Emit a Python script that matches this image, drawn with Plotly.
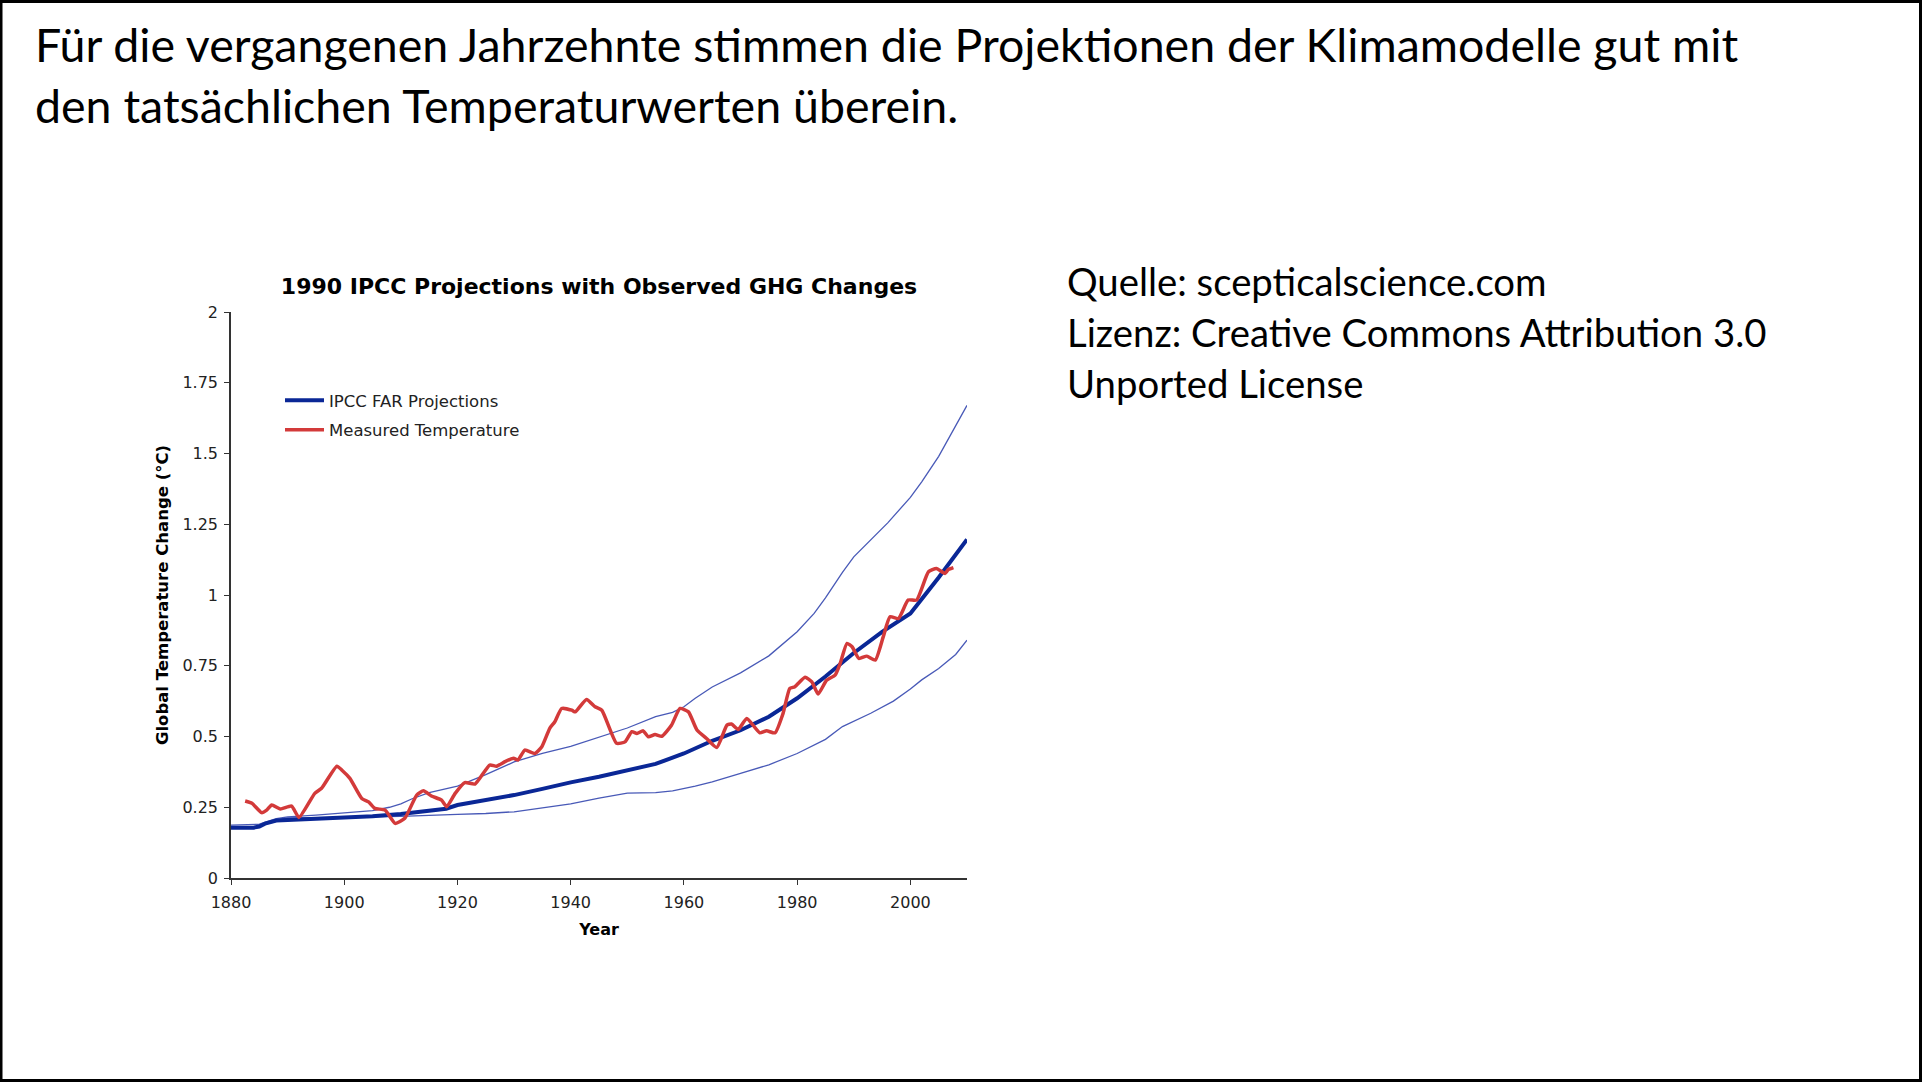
import plotly.graph_objects as go

# ---------------- data ----------------
proj_years = [1880, 1884, 1885, 1886, 1888, 1890, 1895, 1900, 1905, 1910, 1915, 1918, 1920,
              1925, 1930, 1935, 1938, 1940, 1945, 1950, 1955, 1958, 1960, 1965, 1970, 1975,
              1980, 1985, 1990, 1995, 2000, 2005, 2010]
proj_values = [0.178, 0.178, 0.182, 0.192, 0.203, 0.205, 0.207, 0.212, 0.218, 0.226, 0.236, 0.245, 0.258,
               0.275, 0.293, 0.315, 0.330, 0.338, 0.358, 0.380, 0.403, 0.425, 0.440, 0.485, 0.522, 0.570,
               0.635, 0.712, 0.795, 0.870, 0.935, 1.062, 1.196]

upper_years = [1880, 1885, 1888, 1890, 1895, 1900, 1905, 1908, 1910, 1912, 1915, 1920, 1925, 1930,
               1935, 1940, 1946, 1950, 1955, 1958, 1960, 1962, 1965, 1970, 1975, 1980, 1983, 1985,
               1988, 1990, 1996, 2000, 2002, 2005, 2010]
upper_values = [0.187, 0.190, 0.210, 0.216, 0.222, 0.229, 0.238, 0.250, 0.262, 0.280, 0.302, 0.325, 0.365, 0.410,
                0.440, 0.465, 0.505, 0.530, 0.570, 0.585, 0.605, 0.635, 0.675, 0.725, 0.785, 0.870, 0.935, 0.990,
                1.080, 1.135, 1.255, 1.345, 1.400, 1.490, 1.670]

lower_years = [1880, 1885, 1888, 1890, 1900, 1905, 1910, 1920, 1925, 1930, 1935, 1940, 1945, 1950,
               1955, 1958, 1962, 1965, 1970, 1975, 1980, 1985, 1988, 1993, 1997, 2000, 2002, 2005,
               2008, 2010]
lower_values = [0.178, 0.182, 0.205, 0.212, 0.214, 0.215, 0.218, 0.225, 0.228, 0.234, 0.247, 0.262, 0.282, 0.300,
                0.302, 0.308, 0.325, 0.340, 0.370, 0.400, 0.440, 0.490, 0.535, 0.582, 0.625, 0.668, 0.700, 0.740,
                0.790, 0.840]

meas_years = [1882.5, 1883.7, 1885.4, 1886.3, 1887.2, 1888.7, 1890.7, 1892.0, 1894.8, 1896.0, 1898.7, 1899.6,
              1901.0, 1903.1, 1904.3, 1905.4, 1907.2, 1909.0, 1910.7, 1912.8, 1914.0, 1915.4, 1917.2, 1918.1,
              1919.6, 1921.3, 1923.1, 1925.7, 1926.9, 1928.4, 1929.9, 1930.7, 1931.9, 1933.7, 1934.9, 1936.3,
              1937.2, 1938.4, 1940.2, 1940.8, 1942.8, 1944.3, 1945.5, 1948.1, 1949.6, 1950.8, 1951.7, 1952.8,
              1953.7, 1954.9, 1956.1, 1957.8, 1959.3, 1960.8, 1962.3, 1964.0, 1965.8, 1967.6, 1968.4, 1969.6,
              1971.1, 1973.4, 1974.6, 1976.1, 1977.5, 1978.7, 1979.6, 1981.4, 1982.6, 1983.7, 1985.2, 1986.7,
              1987.6, 1988.8, 1989.7, 1990.9, 1992.3, 1993.8, 1995.2, 1996.4, 1997.9, 1999.6, 2001.1, 2003.2,
              2004.6, 2006.1, 2006.7, 2007.6]
meas_values = [0.272, 0.264, 0.231, 0.240, 0.258, 0.244, 0.254, 0.214, 0.299, 0.317, 0.395, 0.381,
               0.352, 0.281, 0.269, 0.246, 0.240, 0.193, 0.211, 0.293, 0.308, 0.290, 0.275, 0.252,
               0.299, 0.337, 0.332, 0.399, 0.395, 0.411, 0.423, 0.417, 0.452, 0.440, 0.464, 0.529,
               0.552, 0.599, 0.593, 0.587, 0.631, 0.605, 0.593, 0.476, 0.481, 0.517, 0.511, 0.520,
               0.499, 0.507, 0.501, 0.540, 0.599, 0.587, 0.523, 0.493, 0.461, 0.540, 0.544, 0.525,
               0.564, 0.513, 0.520, 0.513, 0.581, 0.670, 0.676, 0.709, 0.693, 0.650, 0.699, 0.717,
               0.758, 0.829, 0.817, 0.776, 0.784, 0.770, 0.852, 0.923, 0.917, 0.982, 0.982, 1.082,
               1.094, 1.076, 1.090, 1.097]

x_ticks = [1880, 1900, 1920, 1940, 1960, 1980, 2000]
y_ticks = [0, 0.25, 0.5, 0.75, 1, 1.25, 1.5, 1.75, 2]
y_tick_labels = ["0", "0.25", "0.5", "0.75", "1", "1.25", "1.5", "1.75", "2"]

slide_title = ["Für die vergangenen Jahrzehnte stimmen die Projektionen der Klimamodelle gut mit",
               "den tatsächlichen Temperaturwerten überein."]
source_lines = ["Quelle: scepticalscience.com",
                "Lizenz: Creative Commons Attribution 3.0",
                "Unported License"]

# ---------------- layout geometry (pixels) ----------------
W, H = 1922, 1082
L, R, T, B = 231, 967, 312, 878
PW, PH = R - L, B - T


def px(xp):
    return (xp - L) / PW


def py(yp):
    return 1 - (yp - T) / PH


BLUE = "#0a2796"
THIN = "rgba(40,60,170,0.85)"
RED = "#d33a3a"
AXF = "DejaVu Sans"

fig = go.Figure()
fig.add_trace(go.Scatter(x=upper_years, y=upper_values, mode="lines",
                         line=dict(color=THIN, width=1.3), showlegend=False, hoverinfo="skip"))
fig.add_trace(go.Scatter(x=lower_years, y=lower_values, mode="lines",
                         line=dict(color=THIN, width=1.3), showlegend=False, hoverinfo="skip"))
fig.add_trace(go.Scatter(x=proj_years, y=proj_values, mode="lines", name="IPCC FAR Projections",
                         legendgroup="a", line=dict(color=BLUE, width=4)))
fig.add_trace(go.Scatter(x=meas_years, y=meas_values, mode="lines", name="Measured Temperature",
                         legendgroup="b", line=dict(color=RED, width=3.5, shape="spline", smoothing=0.5)))

annotations = []
for i, t in enumerate(slide_title):
    annotations.append(dict(text=t, xref="paper", yref="paper", x=px(33), y=py(44 + 61 * i),
                            xanchor="left", yanchor="middle", showarrow=False,
                            font=dict(family="Lato", size=46.5, color="#000")))
for i, t in enumerate(source_lines):
    annotations.append(dict(text=t, xref="paper", yref="paper", x=px(1065), y=py(281 + 51 * i),
                            xanchor="left", yanchor="middle", showarrow=False,
                            font=dict(family="Lato", size=38.3, color="#000")))

fig.update_layout(
    width=W, height=H,
    margin=dict(l=L, r=W - R, t=T, b=H - B, autoexpand=False),
    paper_bgcolor="white", plot_bgcolor="white",
    title=dict(text="<b>1990 IPCC Projections with Observed GHG Changes</b>",
               x=0.5, xref="paper", xanchor="center",
               y=1 - 286 / H, yref="container", yanchor="middle",
               font=dict(family=AXF, size=22, color="#000")),
    xaxis=dict(range=[1880, 2010], tickvals=x_ticks, showgrid=False, zeroline=False,
               showline=True, linecolor="#333", linewidth=1.5, ticks="outside", ticklen=5,
               tickcolor="#333", tickfont=dict(family=AXF, size=16, color="#222"),
               ticklabelstandoff=4,
               title=dict(text="<b>Year</b>", font=dict(family=AXF, size=16, color="#000"), standoff=13)),
    yaxis=dict(range=[0, 2], tickvals=y_ticks, ticktext=y_tick_labels, showgrid=False, zeroline=False,
               showline=True, linecolor="#333", linewidth=1.5, ticks="outside", ticklen=5,
               tickcolor="#333", tickfont=dict(family=AXF, size=16, color="#222"),
               ticklabelstandoff=3,
               title=dict(text="<b>Global Temperature Change (°C)</b>",
                          font=dict(family=AXF, size=16.5, color="#000"), standoff=10)),
    legend=dict(x=px(280), y=py(383), xanchor="left", yanchor="top", itemwidth=39,
                bgcolor="rgba(0,0,0,0)", font=dict(family=AXF, size=16.5, color="#222"),
                tracegroupgap=5, traceorder="grouped"),
    annotations=annotations,
    shapes=[dict(type="rect", xref="paper", yref="paper", x0=px(1), x1=px(1920.5),
                 y0=py(1080.5), y1=py(1.5), line=dict(color="#000", width=3), layer="above")],
)

fig.write_html("out.html")
